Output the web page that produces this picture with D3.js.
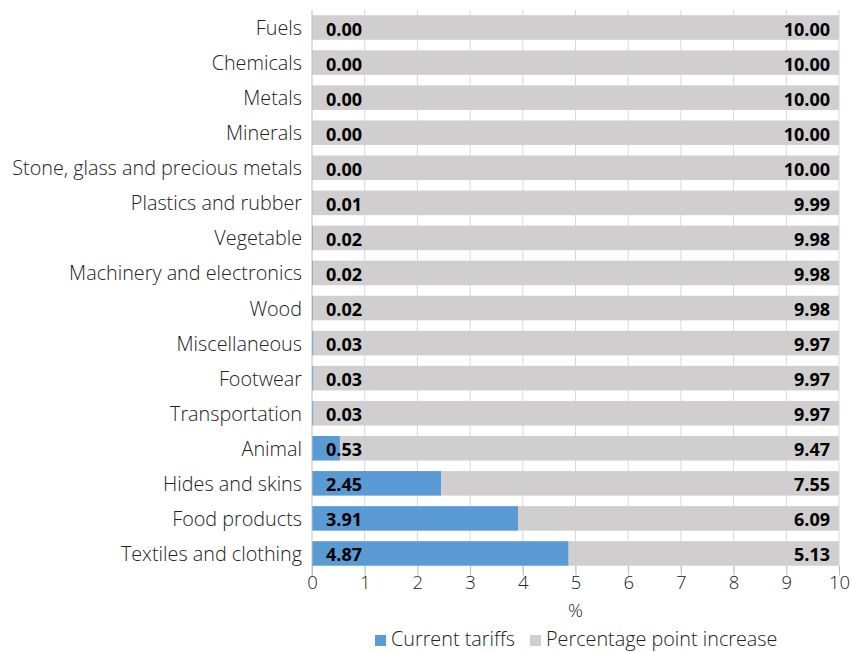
<!DOCTYPE html>
<html>
<head>
<meta charset="utf-8">
<script src="https://cdn.jsdelivr.net/npm/d3@7"></script>
<style>
  html, body { margin: 0; padding: 0; background: #fff; }
  svg { display: block; font-family: "Open Sans", "Noto Sans", sans-serif; }
</style>
</head>
<body>
<svg id="chart" width="851" height="652"></svg>
<script>
// Sector tariff data (%)
const categories = [
  "Fuels", "Chemicals", "Metals", "Minerals", "Stone, glass and precious metals",
  "Plastics and rubber", "Vegetable", "Machinery and electronics", "Wood",
  "Miscellaneous", "Footwear", "Transportation", "Animal", "Hides and skins",
  "Food products", "Textiles and clothing"
];
const currentTariffs = [0.00, 0.00, 0.00, 0.00, 0.00, 0.01, 0.02, 0.02, 0.02, 0.03, 0.03, 0.03, 0.53, 2.45, 3.91, 4.87];
const pointIncrease = [10.00, 10.00, 10.00, 10.00, 10.00, 9.99, 9.98, 9.98, 9.98, 9.97, 9.97, 9.97, 9.47, 7.55, 6.09, 5.13];
const xTicks = [0, 1, 2, 3, 4, 5, 6, 7, 8, 9, 10];
const seriesNames = ["Current tariffs", "Percentage point increase"];
const seriesColors = ["#5B9BD5", "#D0CECE"];

const svg = d3.select("#chart");

const x = d3.scaleLinear().domain([0, 10]).range([312, 839]);
const y = d3.scaleBand().domain(categories).range([10, 571])
  .paddingInner(0.3).paddingOuter(0.15);

const rows = categories.map((c, i) => ({ cat: c, cur: currentTariffs[i], inc: pointIncrease[i] }));
const stack = d3.stack().keys(["cur", "inc"])(rows);

// vertical gridlines
svg.append("g").selectAll("line").data(xTicks.slice(1)).join("line")
  .attr("x1", d => x(d)).attr("x2", d => x(d))
  .attr("y1", 10).attr("y2", 571)
  .attr("stroke", "#d9d9d9").attr("stroke-width", 1);

// stacked bars
svg.append("g").selectAll("g").data(stack).join("g")
  .attr("fill", (d, i) => seriesColors[i])
  .selectAll("rect").data(d => d).join("rect")
  .attr("x", d => x(d[0]))
  .attr("width", d => Math.max(0, x(d[1]) - x(d[0])))
  .attr("y", d => y(d.data.cat))
  .attr("height", y.bandwidth());

// x axis
const xAxis = svg.append("g").attr("transform", "translate(0,571)")
  .call(d3.axisBottom(x).tickValues(xTicks).tickFormat(d3.format("d")).tickSize(5).tickSizeOuter(0));
xAxis.select(".domain").remove();
xAxis.selectAll(".tick line").attr("stroke", "#bfbfbf").attr("y1", -5);
xAxis.selectAll(".tick text").attr("fill", "#222").attr("font-size", 18.5)
  .attr("font-weight", 300).attr("y", 2).attr("dy", "0.85em")
  .attr("font-family", "'Open Sans', sans-serif");

// zero baseline
svg.append("line").attr("x1", x(0)).attr("x2", x(0)).attr("y1", 10).attr("y2", 576)
  .attr("stroke", "#bfbfbf");

// category labels
svg.append("g").selectAll("text").data(categories).join("text")
  .attr("x", 302).attr("y", d => y(d) + y.bandwidth() / 2)
  .attr("text-anchor", "end").attr("dominant-baseline", "central")
  .attr("font-size", 19.8).attr("font-weight", 300).attr("fill", "#222")
  .text(d => d);

// value labels
const fmt = d3.format(".2f");
svg.append("g").selectAll("text").data(rows).join("text")
  .attr("x", x(0) + 14).attr("y", d => y(d.cat) + y.bandwidth() / 2 + 1)
  .attr("dominant-baseline", "central")
  .attr("font-size", 18).attr("font-weight", 700).attr("fill", "#000")
  .text(d => fmt(d.cur));
svg.append("g").selectAll("text").data(rows).join("text")
  .attr("x", x(10) - 9).attr("y", d => y(d.cat) + y.bandwidth() / 2 + 1)
  .attr("text-anchor", "end").attr("dominant-baseline", "central")
  .attr("font-size", 18).attr("font-weight", 700).attr("fill", "#000")
  .text(d => fmt(d.inc));

// axis title
svg.append("text").attr("x", x(5)).attr("y", 617)
  .attr("text-anchor", "middle").attr("font-size", 18.5).attr("font-weight", 300).attr("fill", "#222")
  .text("%");

// legend
const legend = svg.append("g").attr("transform", "translate(375,638)");
const legItems = [{ name: seriesNames[0], color: seriesColors[0], x: 0 }, { name: seriesNames[1], color: seriesColors[1], x: 155 }];
const li = legend.selectAll("g").data(legItems).join("g").attr("transform", d => `translate(${d.x},0)`);
li.append("rect").attr("x", 0).attr("y", -3).attr("width", 11).attr("height", 11).attr("fill", d => d.color);
li.append("text").attr("x", 16).attr("y", 0).attr("dominant-baseline", "central")
  .attr("font-size", 19.8).attr("font-weight", 300).attr("fill", "#222").text(d => d.name);
</script>
</body>
</html>
